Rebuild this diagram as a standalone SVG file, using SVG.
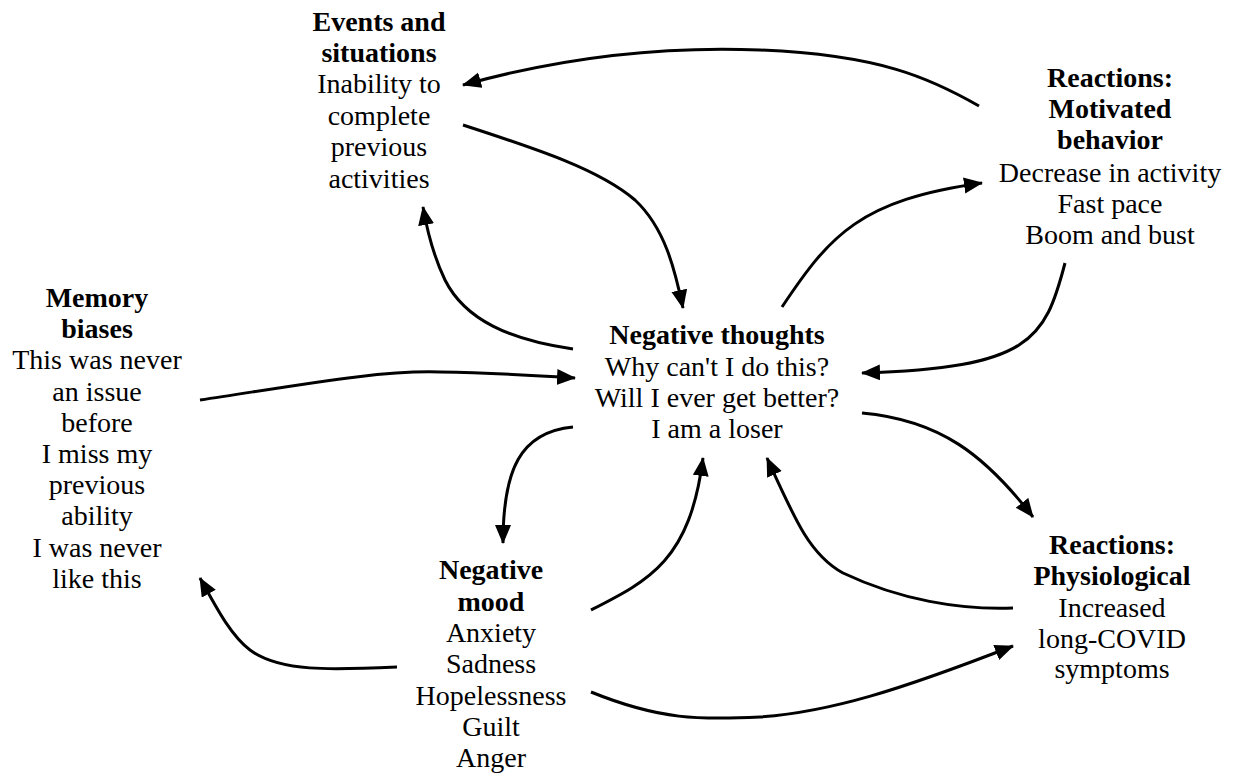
<svg xmlns="http://www.w3.org/2000/svg" width="1236" height="773" viewBox="0 0 1236 773">
<defs>
<marker id="ah" markerUnits="userSpaceOnUse" markerWidth="22" markerHeight="18" refX="18" refY="8" orient="auto">
<path d="M0,0 L19,8 L0,16 z" fill="#000"/>
</marker>
<style>
text{font-family:'Liberation Serif','Times New Roman',serif;font-size:28px;fill:#000;text-anchor:middle}
.h{font-weight:bold}
.c{fill:none;stroke:#000;stroke-width:3;marker-end:url(#ah)}
</style>
</defs>
<rect width="1236" height="773" fill="#fff"/>
<g id="connectors">
<path class="c" d="M979,106 C930,78 880,55 760,50 C660,46 560,58 463,85"/>
<path class="c" d="M463,125 C540,150 600,170 635,200 C665,228 675,270 683,308"/>
<path class="c" d="M573,349 C510,340 465,320 445,280 C433,255 427,230 423,207"/>
<path class="c" d="M782,307 C830,235 860,200 982,183"/>
<path class="c" d="M1065,263 C1045,340 1030,368 862,373"/>
<path class="c" d="M200,400 C300,385 380,370 440,372 C500,373 540,376 575,378"/>
<path class="c" d="M573,427 C520,432 503,470 503,543"/>
<path class="c" d="M591,610 C650,580 690,560 703,458"/>
<path class="c" d="M1013,608 C960,610 900,600 843,573 C810,555 795,520 767,458"/>
<path class="c" d="M862,413 C940,420 985,455 1033,517"/>
<path class="c" d="M397,667 C330,670 280,672 250,650 C230,635 215,605 200,578"/>
<path class="c" d="M591,692 C660,720 700,720 760,717 C830,712 900,690 1013,646"/>
</g>
<g id="events">
<text x="379" y="31" class="h">Events and</text>
<text x="379" y="62" class="h">situations</text>
<text x="379" y="93">Inability to</text>
<text x="379" y="125">complete</text>
<text x="379" y="156">previous</text>
<text x="379" y="188">activities</text>
</g>
<g id="motivated">
<text x="1110" y="87" class="h">Reactions:</text>
<text x="1110" y="118" class="h">Motivated</text>
<text x="1110" y="149" class="h">behavior</text>
<text x="1110" y="182">Decrease in activity</text>
<text x="1110" y="213">Fast pace</text>
<text x="1110" y="244">Boom and bust</text>
</g>
<g id="memory">
<text x="97" y="307" class="h">Memory</text>
<text x="97" y="338" class="h">biases</text>
<text x="97" y="369">This was never</text>
<text x="97" y="401">an issue</text>
<text x="97" y="432">before</text>
<text x="97" y="463">I miss my</text>
<text x="97" y="494">previous</text>
<text x="97" y="525">ability</text>
<text x="97" y="557">I was never</text>
<text x="97" y="588">like this</text>
</g>
<g id="thoughts">
<text x="717" y="344" class="h">Negative thoughts</text>
<text x="717" y="376">Why can't I do this?</text>
<text x="717" y="407">Will I ever get better?</text>
<text x="717" y="438">I am a loser</text>
</g>
<g id="mood">
<text x="491" y="579" class="h">Negative</text>
<text x="491" y="611" class="h">mood</text>
<text x="491" y="642">Anxiety</text>
<text x="491" y="673">Sadness</text>
<text x="491" y="705">Hopelessness</text>
<text x="491" y="736">Guilt</text>
<text x="491" y="767">Anger</text>
</g>
<g id="physiological">
<text x="1112" y="554" class="h">Reactions:</text>
<text x="1112" y="585" class="h">Physiological</text>
<text x="1112" y="617">Increased</text>
<text x="1112" y="648">long-COVID</text>
<text x="1112" y="678">symptoms</text>
</g>
</svg>
